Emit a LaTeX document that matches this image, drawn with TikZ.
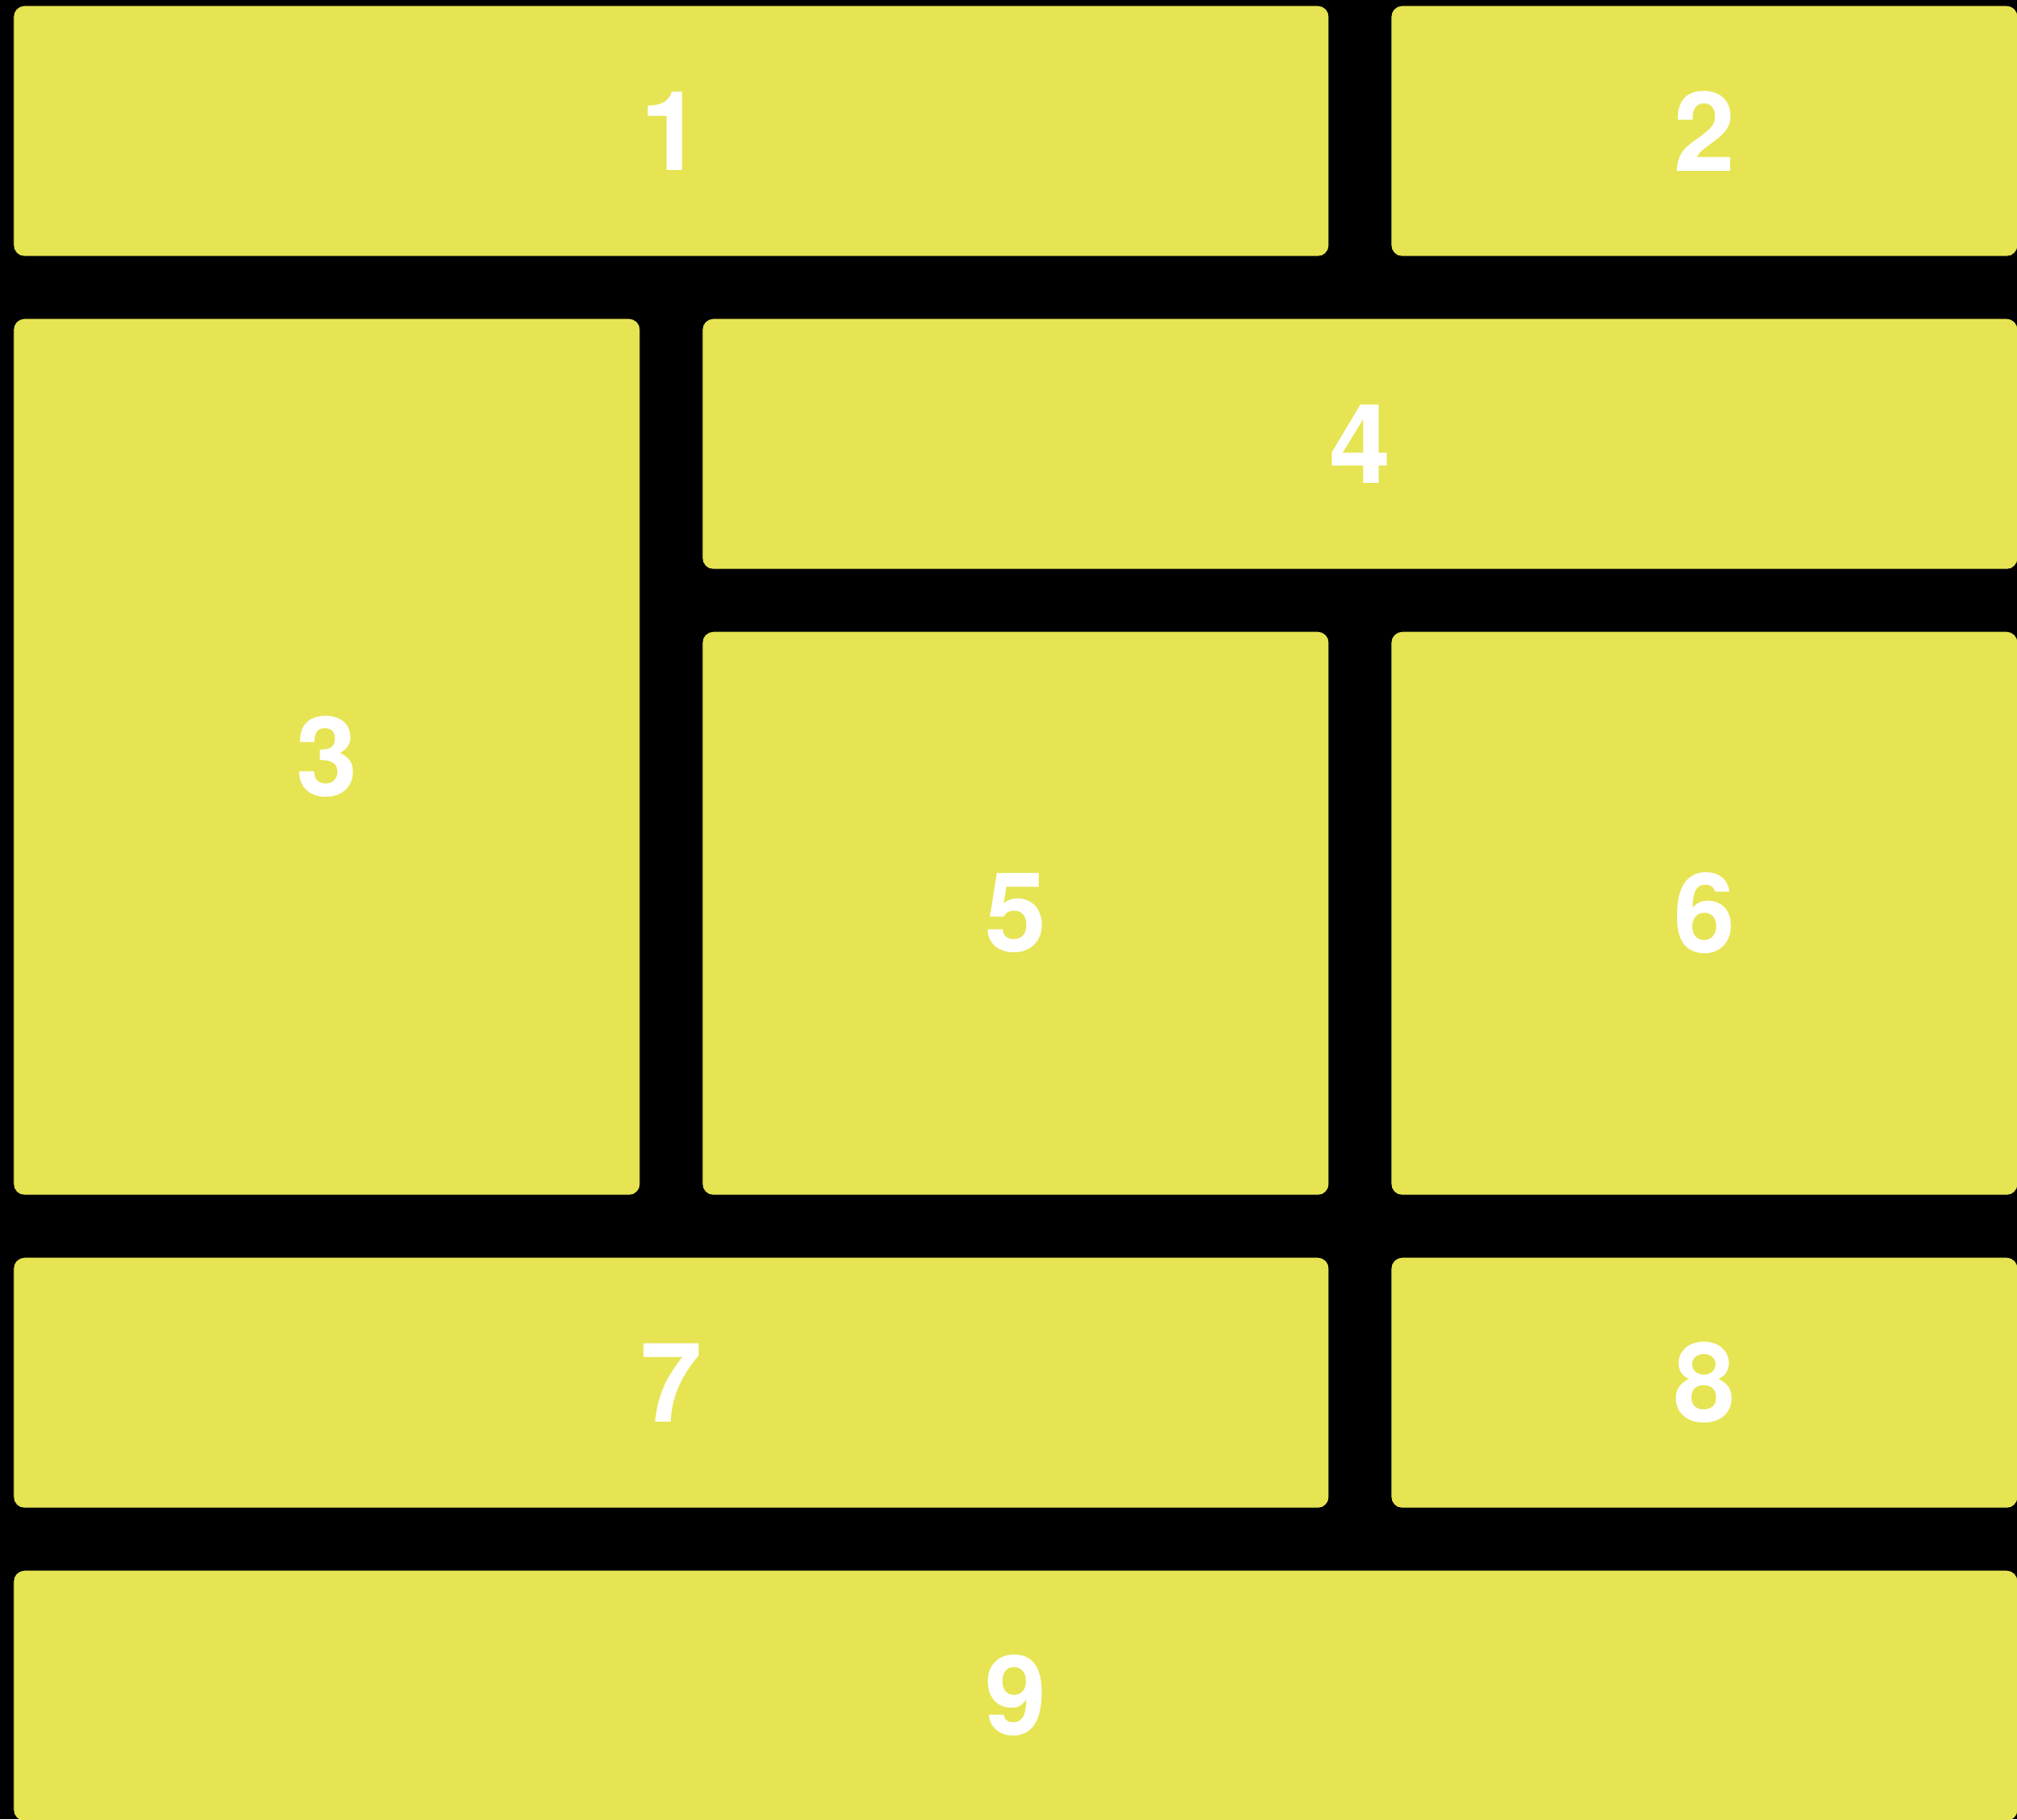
\documentclass[tikz,border=0pt]{standalone}
\usepackage{fontspec}
\setsansfont{TeX Gyre Heros}
\usepackage{tikz}
\usetikzlibrary{positioning}
\definecolor{tileyellow}{RGB}{230,228,82}

\begin{document}
\begin{tikzpicture}[
      tile/.style={fill=tileyellow, rounded corners=0.12cm, inner sep=0pt,
                   text=white, font=\sffamily\bfseries\fontsize{35}{40}\selectfont,
                   text centered}]

    % Grid: 3 columns x 6 rows, 1 px = 0.01 cm
    \def\cw{6.96}       % cell width
    \def\ch{2.78}       % cell height
    \def\gp{0.70}       % gap between cells
    \def\ox{0.147}      % left offset
    \def\oy{0.06}       % top offset

    % Black page
    \fill[black] (0,0) rectangle (22.43,-20.23);
    \useasboundingbox (0,0) rectangle (22.43,-20.23);

    % Helper: one tile spanning cells
    % #1=name, #2=col, #3=row, #4=cols, #5=rows, #6=label
    \newcommand{\tilebox}[6]{
        \pgfmathsetmacro{\xa}{\ox+#2*(\cw+\gp)}
        \pgfmathsetmacro{\ya}{-\oy-#3*(\ch+\gp)}
        \pgfmathsetmacro{\ww}{#4*\cw+(#4-1)*\gp}
        \pgfmathsetmacro{\hh}{#5*\ch+(#5-1)*\gp}
        \node[tile, minimum width=\ww cm, minimum height=\hh cm,
              anchor=north west] (#1) at (\xa, \ya) {#6};
    }

    % === Row 0 ===
    \tilebox{t1}{0}{0}{2}{1}{1}
    \tilebox{t2}{2}{0}{1}{1}{2}

    % === Rows 1-3 ===
    \tilebox{t3}{0}{1}{1}{3}{3}
    \tilebox{t4}{1}{1}{2}{1}{4}
    \tilebox{t5}{1}{2}{1}{2}{5}
    \tilebox{t6}{2}{2}{1}{2}{6}

    % === Row 4 ===
    \tilebox{t7}{0}{4}{2}{1}{7}
    \tilebox{t8}{2}{4}{1}{1}{8}

    % === Row 5 ===
    \tilebox{t9}{0}{5}{3}{1}{9}

\end{tikzpicture}
\end{document}
